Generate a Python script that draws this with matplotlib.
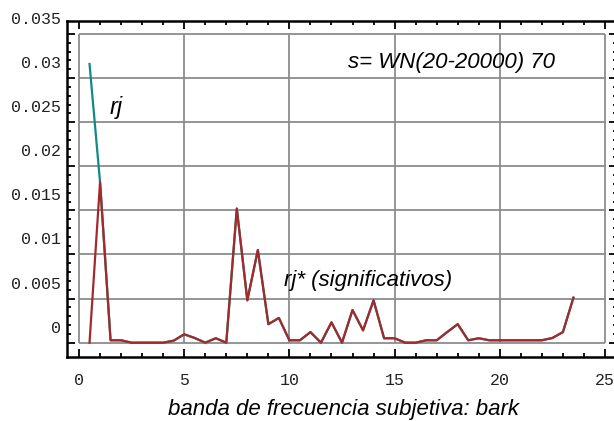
import matplotlib
matplotlib.use("Agg")
import matplotlib.pyplot as plt
import matplotlib.transforms as mtransforms
import numpy as np

# data
bark = [0.5, 1.0, 1.5, 2.0, 2.5, 3.0, 3.5, 4.0, 4.5, 5.0, 5.5, 6.0, 6.5, 7.0,
        7.5, 8.0, 8.5, 9.0, 9.5, 10.0, 10.5, 11.0, 11.5, 12.0, 12.5, 13.0,
        13.5, 14.0, 14.5, 15.0, 15.5, 16.0, 16.5, 17.0, 17.5, 18.0, 18.5,
        19.0, 19.5, 20.0, 20.5, 21.0, 21.5, 22.0, 22.5, 23.0, 23.5]
rj_star = [0.0, 0.0182, 0.00027, 0.00027, 0.0, 0.0, 0.0, 0.0, 0.00023,
           0.00095, 0.00053, 0.0, 0.0005, 0.0, 0.0152, 0.0048, 0.0105,
           0.0021, 0.0028, 0.00027, 0.00027, 0.0012, 0.0, 0.0023, 0.0,
           0.0037, 0.0014, 0.0048, 0.0005, 0.0005, 0.0, 0.0, 0.00027,
           0.00027, 0.0012, 0.0021, 0.00027, 0.0005, 0.00027, 0.00027,
           0.00027, 0.00027, 0.00027, 0.00027, 0.00053, 0.0012, 0.0051]
rj = [0.0316] + rj_star[1:]

x_ticks = [0, 5, 10, 15, 20, 25]
x_tick_labels = ["0", "5", "10", "15", "20", "25"]
y_ticks = [0, 0.005, 0.01, 0.015, 0.02, 0.025, 0.03, 0.035]
y_tick_labels = ["0", "0.005", "0.01", "0.015", "0.02", "0.025", "0.03", "0.035"]

fig = plt.figure(figsize=(6.14, 4.21), dpi=100)
W, H = 614, 421
left_px, right_px = 66.7, 617.3
top_px, bottom_px = 20.7, 356.7
ax = fig.add_axes([left_px / W, 1 - bottom_px / H,
                   (right_px - left_px) / W, (bottom_px - top_px) / H])

ax.set_xlim(-0.585, 25.585)
ax.set_ylim(-0.00159, 0.0365)

grid_col = "#8c8c8c"
ax.hlines(y_ticks, x_ticks[0], x_ticks[-1], color=grid_col, lw=1.3, zorder=1)
ax.vlines(x_ticks, y_ticks[0], y_ticks[-1], color=grid_col, lw=1.3, zorder=1)

ax.plot(bark, rj, color="#108a86", lw=1.6, zorder=2)
ax.plot(bark, rj_star, color="#a3292c", lw=1.6, zorder=3)

for s in ax.spines.values():
    s.set_linewidth(1.8)
    s.set_color("black")

ax.set_xticks(x_ticks)
ax.set_xticklabels(x_tick_labels)
ax.set_xticks(np.arange(0, 26, 1), minor=True)
ax.set_yticks(y_ticks)
ax.set_yticklabels(y_tick_labels)
ax.set_yticks(np.arange(0, 0.0355, 0.001), minor=True)

ax.tick_params(which="both", direction="in", top=True, right=True,
               width=1.3, color="black")
ax.tick_params(which="major", length=6)
ax.tick_params(which="minor", length=3)
ax.tick_params(axis="x", which="major", pad=12)
ax.tick_params(axis="y", which="major", pad=4)

for lab in ax.get_xticklabels() + ax.get_yticklabels():
    lab.set_fontfamily("Liberation Mono")
    lab.set_fontsize(12)
    lab.set_color("#222222")

offset = mtransforms.ScaledTranslation(0, 16 / 100, fig.dpi_scale_trans)
for lab in ax.get_yticklabels():
    lab.set_transform(lab.get_transform() + offset)

txt = dict(family="Liberation Sans", style="italic", color="black")
ax.text(1.45, 0.0267, "rj", fontsize=17, va="center", ha="left", **txt)
ax.text(17.7, 0.0318, "s= WN(20-20000) 70", fontsize=16, va="center",
        ha="center", **txt)
ax.text(13.76, 0.0071, "rj* (significativos)", fontsize=16, va="center",
        ha="center", **txt)
fig.text(344 / W, 1 - 410 / H, "banda de frecuencia subjetiva: bark",
         fontsize=16, ha="center", va="center", **txt)

fig.savefig("out.png", dpi=100)
